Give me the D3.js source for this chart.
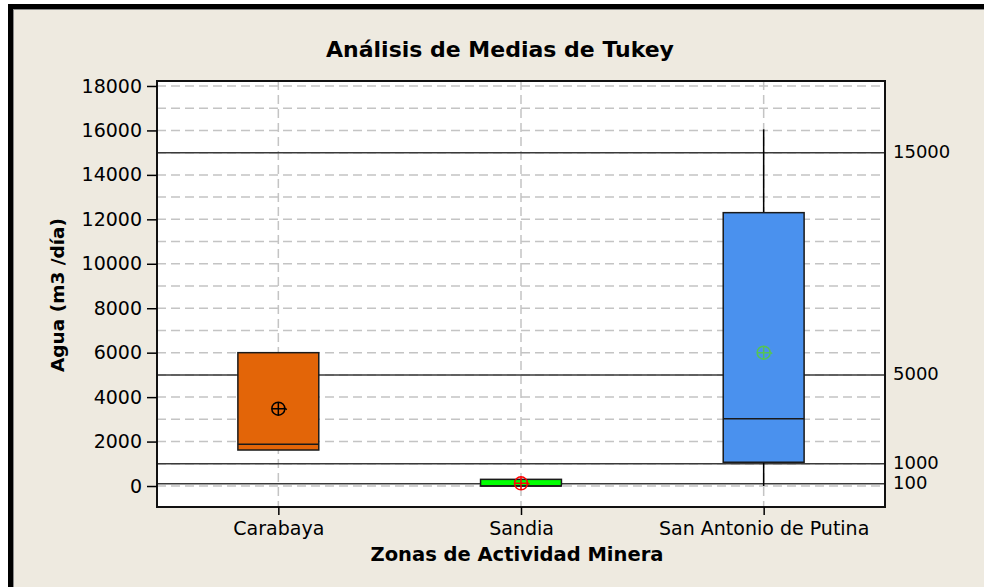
<!DOCTYPE html>
<html>
<head>
<meta charset="utf-8">
<script src="https://cdn.jsdelivr.net/npm/d3@7"></script>
<style>
  body { margin: 0; background: #fff; }
  svg { display: block; font-family: "DejaVu Sans", Verdana, sans-serif; }
</style>
</head>
<body>
<div id="chart"></div>
<script>
// data
var zonas = ["Carabaya", "Sandia", "San Antonio de Putina"];
var q1 = [1620, 0, 1070];
var mediana = [1880, 0, 3030];
var q3 = [6000, 300, 12300];
var minimo = [1620, 0, 0];
var maximo = [6000, 300, 16050];
var media = [3480, 120, 6000];
var colores = ["#e36508", "#00ff00", "#4a91ee"];
var colorMedia = ["#000000", "#ff0000", "#55c455"];
var referencias = [15000, 5000, 1000, 100];
var ticksY = [0, 2000, 4000, 6000, 8000, 10000, 12000, 14000, 16000, 18000];
var gridY = d3.range(0, 18001, 1000);

var width = 984,
    height = 587;

var plot = { left: 157, right: 885, top: 81, bottom: 507 };

var svg = d3.select("#chart")
    .append("svg")
    .attr("width", width)
    .attr("height", height);

// frame
svg.append("rect").attr("width", width).attr("height", height).attr("fill", "#fff");
svg.append("rect").attr("x", 8).attr("y", 4).attr("width", width - 8).attr("height", height - 4).attr("fill", "#000");
svg.append("rect").attr("x", 13).attr("y", 9).attr("width", width - 13).attr("height", height - 9).attr("fill", "#8a8a8a");
svg.append("rect").attr("x", 14).attr("y", 10).attr("width", width - 14).attr("height", height - 10).attr("fill", "#eeeae0");

var x = d3.scalePoint()
    .domain(zonas)
    .range([plot.left, plot.right])
    .padding(0.5);

var y = d3.scaleLinear()
    .domain([-944, 18224])
    .range([plot.bottom, plot.top]);

var boxW = (plot.right - plot.left) / 3 / 3;

// plot background
svg.append("rect")
    .attr("x", plot.left).attr("y", plot.top)
    .attr("width", plot.right - plot.left).attr("height", plot.bottom - plot.top)
    .attr("fill", "#fff");

// dashed grid
svg.append("g")
    .selectAll("line")
    .data(gridY)
    .enter().append("line")
    .attr("x1", plot.left).attr("x2", plot.right)
    .attr("y1", function(d) { return y(d); })
    .attr("y2", function(d) { return y(d); })
    .attr("stroke", "#c4c4c4")
    .attr("stroke-width", 1.5)
    .attr("stroke-dasharray", "9,5");

svg.append("g")
    .selectAll("line")
    .data(zonas)
    .enter().append("line")
    .attr("x1", function(d) { return x(d); })
    .attr("x2", function(d) { return x(d); })
    .attr("y1", plot.top).attr("y2", plot.bottom)
    .attr("stroke", "#c4c4c4")
    .attr("stroke-width", 1.5)
    .attr("stroke-dasharray", "9,5");

// reference lines
svg.append("g")
    .selectAll("line")
    .data(referencias)
    .enter().append("line")
    .attr("x1", plot.left).attr("x2", plot.right)
    .attr("y1", function(d) { return y(d); })
    .attr("y2", function(d) { return y(d); })
    .attr("stroke", "#3a3a3a")
    .attr("stroke-width", 1.5);

svg.append("g")
    .selectAll("text")
    .data(referencias)
    .enter().append("text")
    .attr("x", plot.right + 8)
    .attr("y", function(d) { return y(d) - 1; })
    .attr("dy", "0.35em")
    .attr("font-size", 18)
    .attr("fill", "#000")
    .text(function(d) { return d; });

// boxes
var cajas = svg.append("g")
    .selectAll("g")
    .data(zonas)
    .enter().append("g");

cajas.append("line")
    .attr("x1", function(d) { return x(d); })
    .attr("x2", function(d) { return x(d); })
    .attr("y1", function(d, i) { return y(maximo[i]); })
    .attr("y2", function(d, i) { return y(q3[i]); })
    .attr("stroke", "#000").attr("stroke-width", 1.5);

cajas.append("line")
    .attr("x1", function(d) { return x(d); })
    .attr("x2", function(d) { return x(d); })
    .attr("y1", function(d, i) { return y(q1[i]); })
    .attr("y2", function(d, i) { return y(minimo[i]); })
    .attr("stroke", "#000").attr("stroke-width", 1.5);

cajas.append("rect")
    .attr("x", function(d) { return x(d) - boxW / 2; })
    .attr("width", boxW)
    .attr("y", function(d, i) { return y(q3[i]); })
    .attr("height", function(d, i) { return y(q1[i]) - y(q3[i]); })
    .attr("fill", function(d, i) { return colores[i]; })
    .attr("stroke", "#1a1a1a")
    .attr("stroke-width", 1.5);

cajas.append("line")
    .attr("x1", function(d) { return x(d) - boxW / 2; })
    .attr("x2", function(d) { return x(d) + boxW / 2; })
    .attr("y1", function(d, i) { return y(mediana[i]); })
    .attr("y2", function(d, i) { return y(mediana[i]); })
    .attr("stroke", "#1a1a1a").attr("stroke-width", 1.5);

// mean symbols (circle with cross)
var r = 6.5;
cajas.append("circle")
    .attr("cx", function(d) { return x(d); })
    .attr("cy", function(d, i) { return y(media[i]); })
    .attr("r", r)
    .attr("fill", "none")
    .attr("stroke", function(d, i) { return colorMedia[i]; })
    .attr("stroke-width", 1.5);

cajas.append("path")
    .attr("d", function(d, i) {
        var cx = x(d), cy = y(media[i]);
        return "M" + (cx - r) + "," + cy + "H" + (cx + r) +
               "M" + cx + "," + (cy - r) + "V" + (cy + r) +
               "M" + (cx + r - 1) + "," + (cy - 1) + "l3,2";
    })
    .attr("fill", "none")
    .attr("stroke", function(d, i) { return colorMedia[i]; })
    .attr("stroke-width", 1.5);

// plot border
svg.append("rect")
    .attr("x", plot.left).attr("y", plot.top)
    .attr("width", plot.right - plot.left).attr("height", plot.bottom - plot.top)
    .attr("fill", "none")
    .attr("stroke", "#111")
    .attr("stroke-width", 2);

// y axis
var yAxis = svg.append("g")
    .attr("transform", "translate(" + plot.left + ",0)")
    .call(d3.axisLeft(y).tickValues(ticksY).tickSize(10).tickPadding(5).tickFormat(d3.format("d")));
yAxis.select(".domain").remove();
yAxis.selectAll("line").attr("stroke", "#000").attr("stroke-width", 1.5);
yAxis.selectAll("text").attr("font-size", 19).attr("font-family", "DejaVu Sans").attr("fill", "#000");

// x axis
var xAxis = svg.append("g")
    .attr("transform", "translate(0," + plot.bottom + ")")
    .call(d3.axisBottom(x).tickSize(8).tickPadding(7));
xAxis.select(".domain").remove();
xAxis.selectAll("line").attr("stroke", "#000").attr("stroke-width", 1.5);
xAxis.selectAll("text").attr("font-size", 19).attr("font-family", "DejaVu Sans").attr("fill", "#000");

// titles
svg.append("text")
    .attr("x", 500).attr("y", 57)
    .attr("text-anchor", "middle")
    .attr("font-size", 22).attr("font-weight", "bold")
    .text("Análisis de Medias de Tukey");

svg.append("text")
    .attr("x", 517).attr("y", 561)
    .attr("text-anchor", "middle")
    .attr("font-size", 19.5).attr("font-weight", "bold")
    .text("Zonas de Actividad Minera");

svg.append("text")
    .attr("transform", "translate(64,295) rotate(-90)")
    .attr("text-anchor", "middle")
    .attr("font-size", 18.5).attr("font-weight", "bold")
    .text("Agua (m3 /día)");
</script>
</body>
</html>
